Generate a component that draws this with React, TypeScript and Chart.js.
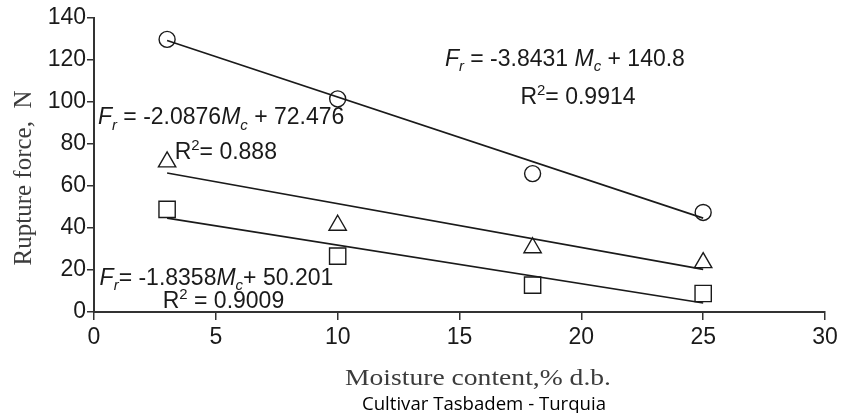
import React, { useEffect, useRef } from "react";
import { Chart, registerables } from "chart.js";

Chart.register(...registerables);

// ---- data ----
const moisture = [3, 10, 18, 25];
const circleForce = [129.8, 101.5, 65.9, 47.4];
const triangleForce = [71.5, 41.3, 30.6, 23.5];
const squareForce = [48.9, 26.6, 12.8, 8.8];

const fitMoisture = [3, 25];
const circleFit = [129.3, 44.7];
const triangleFit = [66.2, 20.3];
const squareFit = [44.7, 4.3];

const xTitle = "Moisture content,% d.b.";
const yTitle = "Rupture force,  N";
const caption = "Cultivar Tasbadem - Turquia";

type Seg = { t: string; i?: boolean; sub?: boolean; sup?: boolean };

const eq1: Seg[] = [{ t: "F", i: true }, { t: "r", i: true, sub: true }, { t: " = -3.8431 " }, { t: "M", i: true }, { t: "c", i: true, sub: true }, { t: " + 140.8" }];
const r1: Seg[] = [{ t: "R" }, { t: "2", sup: true }, { t: "= 0.9914" }];
const eq2: Seg[] = [{ t: "F", i: true }, { t: "r", i: true, sub: true }, { t: " = -2.0876" }, { t: "M", i: true }, { t: "c", i: true, sub: true }, { t: " + 72.476" }];
const r2: Seg[] = [{ t: "R" }, { t: "2", sup: true }, { t: "= 0.888" }];
const eq3: Seg[] = [{ t: "F", i: true }, { t: "r", i: true, sub: true }, { t: "= -1.8358" }, { t: "M", i: true }, { t: "c", i: true, sub: true }, { t: "+ 50.201" }];
const r3: Seg[] = [{ t: "R" }, { t: "2", sup: true }, { t: " = 0.9009" }];

// annotation anchors in data units (left x, baseline y)
const annotations: { segs: Seg[]; x: number; y: number }[] = [
  { segs: eq1, x: 14.4, y: 117.3 },
  { segs: r1, x: 17.5, y: 99.1 },
  { segs: eq2, x: 0.16, y: 89.3 },
  { segs: r2, x: 3.31, y: 73 },
  { segs: eq3, x: 0.23, y: 12.8 },
  { segs: r3, x: 2.82, y: 1.76 },
];

const INK = "#1a1a1a";
const SANS = '"Liberation Sans", Arial, sans-serif';
const SERIF = '"Liberation Serif", "Times New Roman", serif';

function drawRich(ctx: CanvasRenderingContext2D, x: number, y: number, segs: Seg[], size: number) {
  let cx = x;
  for (const s of segs) {
    const small = s.sub || s.sup;
    const fs = small ? size * 0.65 : size;
    ctx.font = `${s.i ? "italic " : ""}${fs}px ${SANS}`;
    const dy = s.sub ? size * 0.22 : s.sup ? -size * 0.4 : 0;
    ctx.fillText(s.t, cx, y + dy);
    cx += ctx.measureText(s.t).width;
  }
}

const textPlugin = {
  id: "textPlugin",
  afterDraw(chart: any) {
    const ctx: CanvasRenderingContext2D = chart.ctx;
    const xs = chart.scales.x;
    const ys = chart.scales.y;
    ctx.save();
    ctx.fillStyle = INK;
    ctx.textAlign = "left";
    ctx.textBaseline = "alphabetic";
    for (const a of annotations) {
      drawRich(ctx, xs.getPixelForValue(a.x), ys.getPixelForValue(a.y), a.segs, 23);
    }
    // x axis title (reference glyphs are horizontally stretched)
    ctx.fillStyle = "#3c3c3c";
    ctx.font = `23px ${SERIF}`;
    ctx.textAlign = "center";
    ctx.save();
    ctx.translate(478, 385);
    ctx.scale(1.2, 1);
    ctx.fillText(xTitle, 0, 0);
    ctx.restore();
    // y axis title
    ctx.save();
    ctx.font = `25px ${SERIF}`;
    ctx.translate(24, 178);
    ctx.rotate(-Math.PI / 2);
    ctx.textBaseline = "middle";
    ctx.fillText(yTitle, 0, 0);
    ctx.restore();
    // caption
    ctx.fillStyle = "#000000";
    ctx.font = `18.6px "Open Sans", sans-serif`;
    ctx.textAlign = "center";
    ctx.textBaseline = "alphabetic";
    ctx.fillText(caption, 484, 410);
    ctx.restore();
  },
};

function pts(xs: number[], ys: number[]) {
  return xs.map((x, i) => ({ x, y: ys[i] }));
}

export default function App() {
  const ref = useRef<HTMLCanvasElement | null>(null);
  useEffect(() => {
    if (!ref.current) return;
    const markerBase = {
      showLine: false,
      borderColor: INK,
      backgroundColor: "rgba(0,0,0,0)",
      pointBorderColor: INK,
      pointBackgroundColor: "rgba(0,0,0,0)",
      pointBorderWidth: 1.4,
    };
    const lineBase = {
      showLine: true,
      borderColor: INK,
      borderWidth: 1.6,
      pointRadius: 0,
      fill: false,
    };
    const chart = new Chart(ref.current, {
      type: "scatter",
      data: {
        datasets: [
          { ...lineBase, label: "circle fit", data: pts(fitMoisture, circleFit) },
          { ...lineBase, label: "triangle fit", data: pts(fitMoisture, triangleFit) },
          { ...lineBase, label: "square fit", data: pts(fitMoisture, squareFit) },
          { ...markerBase, label: "circle", data: pts(moisture, circleForce), pointStyle: "circle", pointRadius: 8 },
          { ...markerBase, label: "triangle", data: pts(moisture, triangleForce), pointStyle: "triangle", pointRadius: 10 },
          { ...markerBase, label: "square", data: pts(moisture, squareForce), pointStyle: "rect", pointRadius: 11.5 },
        ] as any,
      },
      options: {
        animation: false,
        responsive: true,
        maintainAspectRatio: false,
        layout: { padding: { left: 0, right: 18, top: 18, bottom: 0 } },
        plugins: { legend: { display: false }, tooltip: { enabled: false } },
        scales: {
          x: {
            type: "linear",
            min: 0,
            max: 30,
            ticks: { stepSize: 5, color: INK, font: { family: SANS, size: 23 }, padding: 4, maxRotation: 0 },
            grid: { display: true, drawOnChartArea: false, drawTicks: true, tickLength: 8, color: "#333333", lineWidth: 1.5 },
            border: { display: true, color: "#333333", width: 2 },
            afterFit: (s: any) => { s.height = 101; },
          },
          y: {
            type: "linear",
            min: 0,
            max: 140,
            ticks: { stepSize: 20, color: INK, font: { family: SANS, size: 23 }, padding: 1 },
            grid: { display: true, drawOnChartArea: false, drawTicks: true, tickLength: 7, color: "#333333", lineWidth: 1.5 },
            border: { display: true, color: "#333333", width: 2 },
            afterFit: (s: any) => { s.width = 94; },
          },
        },
      } as any,
      plugins: [textPlugin],
    });
    return () => chart.destroy();
  }, []);
  return (
    <div style={{ position: "fixed", left: 0, top: 0, width: 843, height: 413, background: "#fff" }}>
      <canvas ref={ref} />
    </div>
  );
}
